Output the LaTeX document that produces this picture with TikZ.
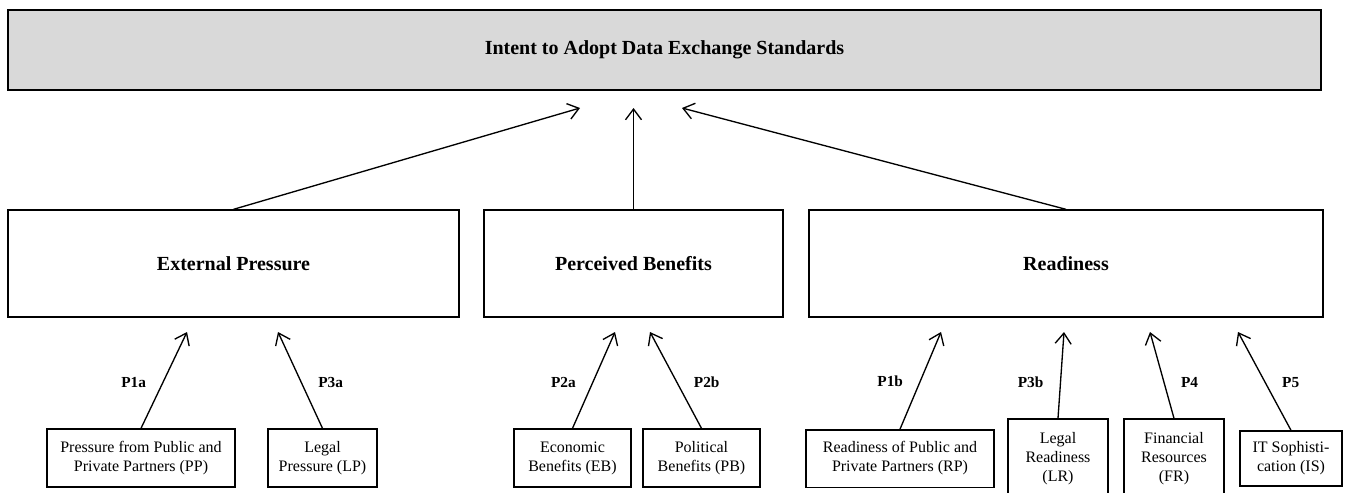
\documentclass[tikz,border=0pt]{standalone}
\usepackage{fontspec}
\setmainfont{Liberation Serif}
\usetikzlibrary{arrows.meta}
\definecolor{headgray}{HTML}{D9D9D9}
\begin{document}
\begin{tikzpicture}
  [x=0.75pt,y=-0.75pt,
   box/.style={draw, line width=1pt, minimum height=80.25pt, font=\bfseries\fontsize{15}{18}\selectfont},
   sub/.style={draw, line width=1pt, align=center, inner sep=1pt, font=\fontsize{12}{14.25}\selectfont},
   lbl/.style={font=\bfseries\fontsize{11.5}{13}\selectfont},
   arr/.style={-{Straight Barb[length=8pt,width=12pt]}, line width=1pt}]
  \useasboundingbox (0,0) rectangle (1347,493);

  % target construct
  \node[box, fill=headgray, line width=1.8pt, minimum width=984.75pt, minimum height=60pt] (intent) at (664.5,50) {Intent to Adopt Data Exchange Standards};

  % factors
  \node[box, minimum width=338.25pt] (press) at (233.5,263.5) {External Pressure};
  \node[box, minimum width=224.25pt] (benef) at (633.5,263.5) {Perceived Benefits};
  \node[box, minimum width=385.5pt] (ready) at (1066,263.5) {Readiness};

  % sub-factors
  \node[sub, minimum width=141pt, minimum height=43.5pt] (pp) at (141,458) {Pressure from Public and\\Private Partners (PP)};
  \node[sub, minimum width=81.75pt, minimum height=43.5pt] (lp) at (322.5,458) {Legal\\Pressure (LP)};
  \node[sub, minimum width=87.75pt, minimum height=43.5pt] (eb) at (572.5,458) {Economic\\Benefits (EB)};
  \node[sub, minimum width=87.75pt, minimum height=43.5pt] (pb) at (701.5,458) {Political\\Benefits (PB)};
  \node[sub, minimum width=141pt, minimum height=43pt] (rp) at (900,458.5) {Readiness of Public and\\Private Partners (RP)};
  \node[sub, minimum width=75pt, minimum height=60pt] (lr) at (1058,459) {Legal\\Readiness\\(LR)};
  \node[sub, minimum width=75pt, minimum height=60pt] (fr) at (1174,459) {Financial\\Resources\\(FR)};
  \node[sub, minimum width=76.5pt, minimum height=41.25pt] (is) at (1291,458.5) {IT Sophisti-\\cation (IS)};

  % arrow ends
  \coordinate (t1) at (580,108);
  \coordinate (t2) at (633.5,108);
  \coordinate (t3) at (682,108);
  \coordinate (a1) at (187,332);
  \coordinate (a2) at (278,332);
  \coordinate (a3) at (615,332);
  \coordinate (a4) at (650,332);
  \coordinate (a5) at (941,332);
  \coordinate (a6) at (1064,332);
  \coordinate (a7) at (1150,332);
  \coordinate (a8) at (1238,332);

  \foreach \from/\to in {press/t1, benef/t2, ready/t3}
    \draw[arr] (\from.north) -- (\to);

  \foreach \from/\to/\lab/\side/\p in {pp/a1/P1a/left/.48, lp/a2/P3a/right/.48, eb/a3/P2a/left/.48,
      pb/a4/P2b/right/.48, rp/a5/P1b/left/.49, lr/a6/P3b/left/.42, fr/a7/P4/right/.42, is/a8/P5/right/.49}
    \draw[arr] (\from.north) -- (\to) node[pos=\p, \side=9pt, lbl] {\lab};
\end{tikzpicture}
\end{document}
